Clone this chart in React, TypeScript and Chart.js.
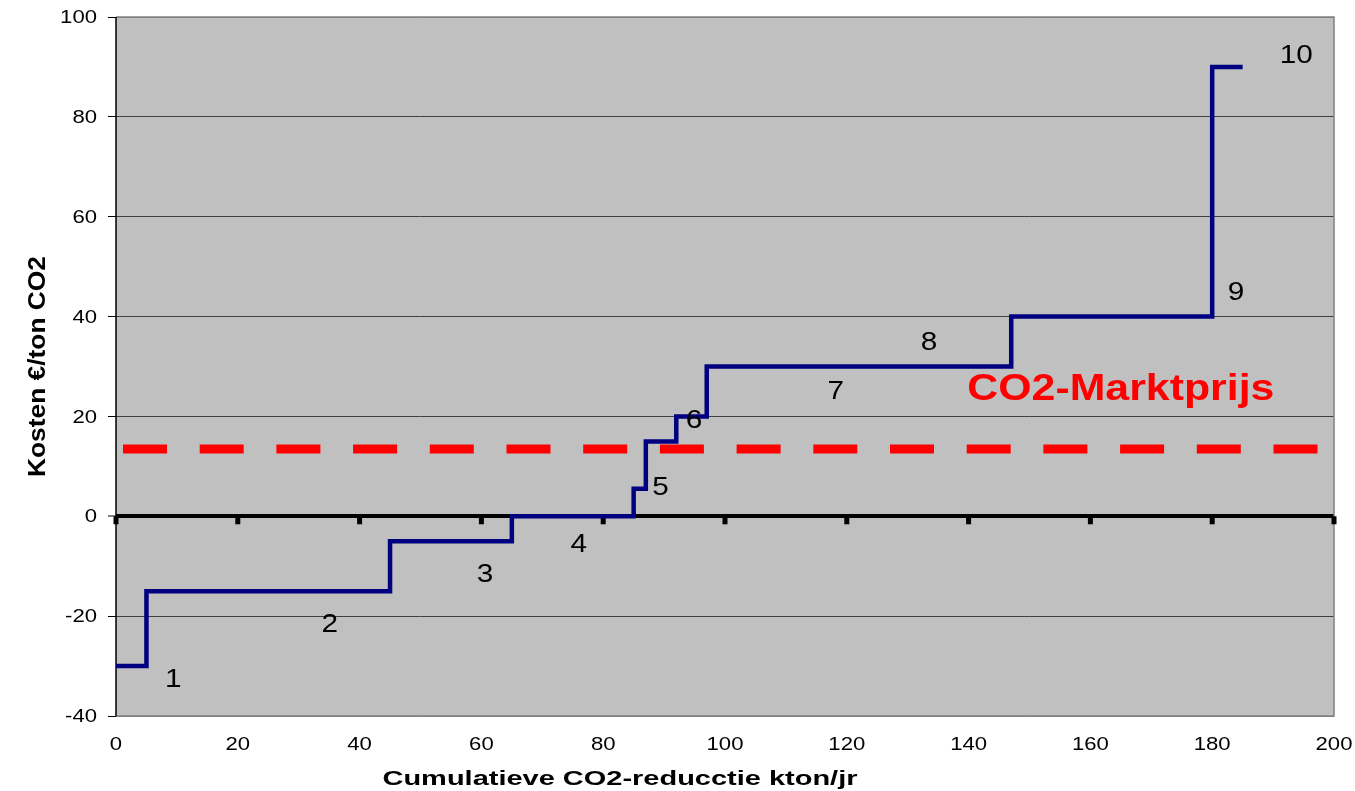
import React, { useEffect, useRef } from "react";
import { Chart, registerables } from "chart.js";

Chart.register(...registerables);

// ---- data ----
const stepStarts = [0, 5, 45, 65, 85, 87, 92, 97, 147, 180];
const stepEnds = [5, 45, 65, 85, 87, 92, 97, 147, 180, 185];
const stepCosts = [-30, -15, -5, 0, 5.5, 15, 20, 30, 40, 90];

const marketPrice = 13.5;
const marketRange = [0, 200];

const measureLabels = ["1", "2", "3", "4", "5", "6", "7", "8", "9", "10"];
const measureLabelX = [9.4, 35.1, 60.6, 76.0, 89.4, 94.9, 118.2, 133.5, 183.9, 193.8];
const measureLabelY = [-32.8, -21.8, -11.8, -5.7, 5.6, 19.1, 24.8, 34.6, 44.7, 92.2];

const marketLabel = "CO2-Marktprijs";
const marketLabelX = 165;
const marketLabelY = 25.2;

const xMin = 0;
const xMax = 200;
const xStep = 20;
const yMin = -40;
const yMax = 100;
const yStep = 20;

const yTitle = "Kosten €/ton CO2";
const xTitle = "Cumulatieve CO2-reducctie kton/jr";

// ---- styling helpers ----
const FONT = '"Liberation Sans", Arial, sans-serif';
const SX = 1.19;

function stretchText(
  ctx: CanvasRenderingContext2D,
  text: string,
  x: number,
  y: number,
  font: string,
  color: string,
  align: CanvasTextAlign,
  baseline: CanvasTextBaseline,
  sx: number
) {
  ctx.save();
  ctx.font = font;
  ctx.fillStyle = color;
  ctx.textAlign = align;
  ctx.textBaseline = baseline;
  ctx.translate(x, y);
  ctx.scale(sx, 1);
  ctx.fillText(text, 0, 0);
  ctx.restore();
}

const decorPlugin = {
  id: "decor",
  beforeDraw(chart: any) {
    const { ctx, chartArea: a } = chart;
    ctx.save();
    ctx.fillStyle = "#c0c0c0";
    ctx.fillRect(a.left, a.top, a.right - a.left, a.bottom - a.top);
    ctx.restore();
  },
  beforeDatasetsDraw(chart: any) {
    const { ctx, chartArea: a, scales } = chart;
    const xs = scales.x;
    const ys = scales.y;
    ctx.save();
    // gray frame (top, right, bottom)
    ctx.strokeStyle = "#808080";
    ctx.lineWidth = 1.5;
    ctx.beginPath();
    ctx.moveTo(a.left, a.top);
    ctx.lineTo(a.right, a.top);
    ctx.lineTo(a.right, a.bottom);
    ctx.lineTo(a.left, a.bottom);
    ctx.stroke();
    // left axis black
    ctx.strokeStyle = "#000";
    ctx.lineWidth = 1.5;
    ctx.beginPath();
    ctx.moveTo(a.left, a.top);
    ctx.lineTo(a.left, a.bottom);
    ctx.stroke();
    // tick marks on zero line
    const y0 = ys.getPixelForValue(0);
    ctx.fillStyle = "#000";
    xs.ticks.forEach((t: any) => {
      const px = xs.getPixelForValue(t.value);
      ctx.fillRect(px - 2.5, y0, 5, 8);
    });
    ctx.restore();
  },
  afterDatasetsDraw(chart: any) {
    const { ctx, chartArea: a, scales } = chart;
    const xs = scales.x;
    const ys = scales.y;
    // measure numbers
    measureLabels.forEach((lab, i) => {
      stretchText(
        ctx,
        lab,
        xs.getPixelForValue(measureLabelX[i]),
        ys.getPixelForValue(measureLabelY[i]),
        `25px ${FONT}`,
        "#000",
        "center",
        "middle",
        SX
      );
    });
    // market label
    stretchText(
      ctx,
      marketLabel,
      xs.getPixelForValue(marketLabelX),
      ys.getPixelForValue(marketLabelY),
      `bold 36px ${FONT}`,
      "#ff0000",
      "center",
      "middle",
      SX
    );
    // y tick labels
    ys.ticks.forEach((t: any) => {
      stretchText(
        ctx,
        String(t.value),
        a.left - 19,
        ys.getPixelForValue(t.value) + 1,
        `18.6px ${FONT}`,
        "#000",
        "right",
        "middle",
        SX
      );
    });
    // x tick labels
    xs.ticks.forEach((t: any) => {
      stretchText(
        ctx,
        String(t.value),
        xs.getPixelForValue(t.value),
        a.bottom + 29,
        `18.6px ${FONT}`,
        "#000",
        "center",
        "middle",
        SX
      );
    });
    // x title (fit to width)
    ctx.save();
    ctx.font = `bold 21px ${FONT}`;
    const xw = ctx.measureText(xTitle).width;
    ctx.restore();
    stretchText(ctx, xTitle, a.left + 504, a.bottom + 69, `bold 21px ${FONT}`, "#000", "center", "alphabetic", 475 / xw);
    // y title rotated
    ctx.save();
    ctx.font = `bold 24px ${FONT}`;
    const yw = ctx.measureText(yTitle).width;
    ctx.translate(45, (a.top + a.bottom) / 2);
    ctx.rotate(-Math.PI / 2);
    ctx.scale(221 / yw, 1);
    ctx.fillStyle = "#000";
    ctx.textAlign = "center";
    ctx.textBaseline = "alphabetic";
    ctx.fillText(yTitle, 0, 0);
    ctx.restore();
  },
};

export default function App() {
  const ref = useRef<HTMLCanvasElement | null>(null);

  useEffect(() => {
    if (!ref.current) return;
    const stepPoints: { x: number; y: number }[] = [];
    stepStarts.forEach((s, i) => {
      stepPoints.push({ x: s, y: stepCosts[i] });
      stepPoints.push({ x: stepEnds[i], y: stepCosts[i] });
    });
    const marketPoints = marketRange.map((x) => ({ x, y: marketPrice }));

    const chart = new Chart(ref.current, {
      type: "scatter",
      data: {
        datasets: [
          {
            label: "Kosten",
            data: stepPoints,
            showLine: true,
            borderColor: "#000080",
            backgroundColor: "#000080",
            borderWidth: 4.5,
            pointRadius: 0,
            borderJoinStyle: "miter",
            borderCapStyle: "butt",
            tension: 0,
          } as any,
          {
            label: "CO2-Marktprijs",
            data: marketPoints,
            showLine: true,
            borderColor: "#ff0000",
            backgroundColor: "#ff0000",
            borderWidth: 9,
            borderDash: [44, 32.7],
            borderDashOffset: 69.7,
            borderCapStyle: "butt",
            pointRadius: 0,
          } as any,
        ],
      },
      options: {
        animation: false,
        responsive: true,
        maintainAspectRatio: false,
        layout: { padding: { top: 17, right: 21, left: 0, bottom: 0 } },
        plugins: {
          legend: { display: false },
          tooltip: { enabled: false },
        },
        scales: {
          x: {
            type: "linear",
            min: xMin,
            max: xMax,
            ticks: { display: false, stepSize: xStep },
            grid: { display: false },
            border: { display: false },
            afterFit: (s: any) => {
              s.height = 75;
            },
          },
          y: {
            type: "linear",
            min: yMin,
            max: yMax,
            ticks: { display: false, stepSize: yStep },
            grid: {
              color: (c: any) =>
                c.tick && c.tick.value === 0
                  ? "#000"
                  : c.tick && (c.tick.value === yMax || c.tick.value === yMin)
                  ? "#808080"
                  : "#404040",
              lineWidth: (c: any) => (c.tick && c.tick.value === 0 ? 4 : 1),
              tickColor: "#000",
              tickWidth: 1,
              tickLength: 8,
              drawTicks: true,
            },
            border: { display: false },
            afterFit: (s: any) => {
              s.width = 116;
            },
          },
        },
      },
      plugins: [decorPlugin],
    });
    return () => chart.destroy();
  }, []);

  return (
    <div style={{ position: "absolute", left: 0, top: 0, width: 1355, height: 791, background: "#fff" }}>
      <canvas ref={ref} />
    </div>
  );
}
